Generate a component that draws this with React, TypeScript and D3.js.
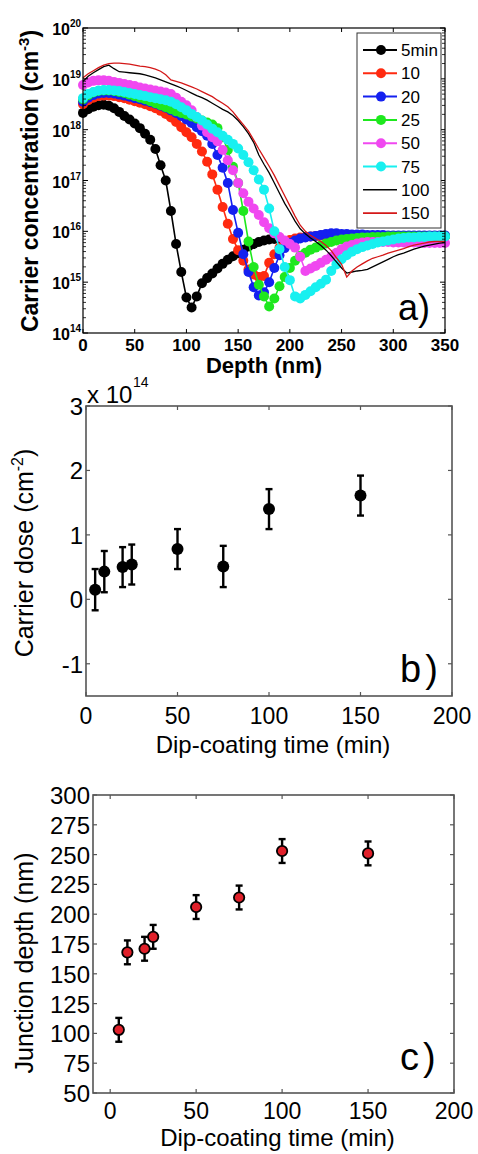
import React from "react";
import * as d3 from "d3";

// ---- panel a: carrier concentration profiles (log10 cm^-3), depth grid in nm ----
const depthNm = [
  0, 5, 10, 15, 20, 25, 30, 35, 40, 45, 50, 55, 60, 65, 70, 75, 80, 85, 90, 95,
  100, 105, 110, 115, 120, 125, 130, 135, 140, 145, 150, 155, 160, 165, 170, 175, 180, 185, 190, 195,
  200, 205, 210, 215, 220, 225, 230, 235, 240, 245, 250, 255, 260, 265, 270, 275, 280, 285, 290, 295,
  300, 305, 310, 315, 320, 325, 330, 335, 340, 345, 350,
];

const log5min = [
  18.33, 18.4, 18.45, 18.48, 18.49, 18.47, 18.42, 18.35, 18.27, 18.2, 18.12, 18.03, 17.92, 17.8, 17.62, 17.3, 17.0, 16.4, 15.75, 15.2,
  14.7, 14.5, 14.72, 14.98, 15.08, 15.17, 15.27, 15.36, 15.44, 15.51, 15.57, 15.64, 15.7, 15.75, 15.79, 15.82, 15.84, 15.85, 15.86,
];

const log10min = [
  18.5, 18.58, 18.63, 18.66, 18.67, 18.67, 18.66, 18.64, 18.62, 18.59, 18.56, 18.53, 18.5, 18.46, 18.42, 18.37, 18.31, 18.24, 18.15, 18.05,
  17.95, 17.85, 17.72, 17.57, 17.37, 17.12, 16.82, 16.48, 16.15, 15.85, 15.63, 15.42, 15.25, 15.15, 15.1, 15.12, 15.38, 15.55, 15.68, 15.77,
  15.83, 15.86, 15.88, 15.89, 15.9, 15.91, 15.92, 15.92, 15.93, 15.93, 15.93, 15.92, 15.92, 15.92, 15.91, 15.91, 15.91, 15.9, 15.9, 15.9,
  15.9, 15.9, 15.9, 15.9, 15.9, 15.9, 15.9, 15.9, 15.9, 15.9, 15.9,
];

const log20min = [
  18.55, 18.63, 18.68, 18.71, 18.72, 18.72, 18.71, 18.69, 18.67, 18.65, 18.62, 18.6, 18.57, 18.54, 18.51, 18.47, 18.43, 18.38, 18.33, 18.27,
  18.2, 18.13, 18.05, 17.97, 17.88, 17.72, 17.5, 17.25, 16.95, 16.42, 15.97, 15.55, 15.2, 14.9, 14.74, 14.8, 15.0, 15.28, 15.53, 15.67,
  15.77, 15.82, 15.86, 15.88, 15.9, 15.91, 15.93, 15.95, 15.96, 15.96, 15.95, 15.95, 15.94, 15.94, 15.94, 15.93, 15.93, 15.93, 15.93, 15.92,
  15.92, 15.92, 15.92, 15.92, 15.92, 15.92, 15.92, 15.92, 15.92, 15.92, 15.92,
];

const log25min = [
  18.6, 18.68, 18.73, 18.76, 18.77, 18.77, 18.76, 18.74, 18.72, 18.69, 18.66, 18.63, 18.6, 18.56, 18.52, 18.48, 18.44, 18.4, 18.36, 18.33,
  18.3, 18.26, 18.22, 18.18, 18.14, 18.1, 18.03, 17.85, 17.6, 17.27, 16.95, 16.4, 15.8, 15.3, 14.95, 14.72, 14.52, 14.68, 14.92, 15.1,
  15.28, 15.42, 15.52, 15.58, 15.64, 15.68, 15.72, 15.76, 15.79, 15.82, 15.84, 15.85, 15.86, 15.87, 15.88, 15.88, 15.89, 15.89, 15.89, 15.9,
  15.9, 15.9, 15.9, 15.9, 15.9, 15.9, 15.9, 15.9, 15.9, 15.9, 15.9,
];

const log50min = [
  18.88, 18.93, 18.96, 18.97, 18.97, 18.96, 18.94, 18.92, 18.9, 18.88, 18.86, 18.83, 18.81, 18.79, 18.77, 18.75, 18.73, 18.7, 18.63, 18.55,
  18.48, 18.38, 18.25, 18.08, 17.95, 17.85, 17.77, 17.6, 17.4, 17.2, 16.95, 16.75, 16.58, 16.45, 16.32, 16.18, 16.06, 15.96, 15.89, 15.82,
  15.75, 15.68, 15.5, 15.22, 15.27, 15.32, 15.38, 15.44, 15.5, 15.58, 15.65, 15.7, 15.73, 15.76, 15.78, 15.79, 15.79, 15.79, 15.79, 15.79,
  15.78, 15.78, 15.78, 15.78, 15.78, 15.78, 15.77, 15.77, 15.77, 15.77, 15.77,
];

const log75min = [
  18.62, 18.7, 18.74, 18.77, 18.78, 18.78, 18.77, 18.76, 18.74, 18.72, 18.7, 18.68, 18.66, 18.64, 18.62, 18.6, 18.58, 18.55, 18.5, 18.44,
  18.38, 18.31, 18.25, 18.18, 18.1, 18.02, 17.95, 17.88, 17.8, 17.72, 17.63, 17.5, 17.36, 17.2, 17.02, 16.82, 16.45, 16.0, 15.65, 15.3,
  15.04, 14.72, 14.68, 14.75, 14.82, 14.9, 14.97, 15.05, 15.22, 15.35, 15.45, 15.53, 15.6, 15.65, 15.69, 15.72, 15.75, 15.78, 15.8, 15.82,
  15.84, 15.86, 15.87, 15.88, 15.88, 15.89, 15.89, 15.9, 15.9, 15.9, 15.9,
];

const log100min = [
  18.95, 19.05, 19.12, 19.18, 19.24, 19.27, 19.2, 19.14, 19.13, 19.12, 19.11, 19.1, 19.08, 19.05, 19.02, 18.98, 18.94, 18.9, 18.86, 18.82,
  18.77, 18.72, 18.67, 18.63, 18.58, 18.52, 18.46, 18.4, 18.35, 18.28, 18.18, 18.06, 17.92, 17.75, 17.5, 17.32, 17.15, 16.95, 16.75, 16.55,
  16.38, 16.2, 16.05, 15.95, 15.87, 15.8, 15.72, 15.63, 15.52, 15.4, 15.28, 15.18, 15.2, 15.22, 15.23, 15.25, 15.3, 15.35, 15.4, 15.45,
  15.5, 15.54, 15.57, 15.61, 15.65, 15.68, 15.71, 15.73, 15.75, 15.77, 15.78,
];

const log150min = [
  19.02, 19.1, 19.16, 19.22, 19.27, 19.3, 19.31, 19.31, 19.3, 19.29, 19.27, 19.25, 19.24, 19.22, 19.19, 19.15, 19.08, 18.98, 18.95, 18.92,
  18.88, 18.84, 18.8, 18.75, 18.7, 18.65, 18.58, 18.52, 18.45, 18.35, 18.22, 18.1, 17.97, 17.8, 17.62, 17.45, 17.28, 17.1, 16.9, 16.7,
  16.5, 16.3, 16.12, 16.0, 15.92, 15.86, 15.8, 15.72, 15.62, 15.48, 15.35, 15.1, 15.22, 15.3, 15.36, 15.42, 15.47, 15.5, 15.53, 15.57,
  15.6, 15.63, 15.66, 15.7, 15.73, 15.75, 15.77, 15.79, 15.8, 15.8, 15.8,
];

const seriesNames = ["5min", "10", "20", "25", "50", "75", "100", "150"];
const seriesColors = ["#000000", "#ff2a10", "#1420f0", "#1ee81e", "#f048f0", "#18f0f0", "#000000", "#d41818"];
const seriesValues = [log5min, log10min, log20min, log25min, log50min, log75min, log100min, log150min];
const seriesMarkers = [true, true, true, true, true, true, false, false];

// ---- panels b and c ----
const dipTime = [5, 10, 20, 25, 50, 75, 100, 150];
const carrierDose = [0.15, 0.43, 0.5, 0.54, 0.78, 0.51, 1.4, 1.61]; // x 1e14 cm^-2
const carrierDoseErr = [0.32, 0.32, 0.31, 0.31, 0.31, 0.32, 0.31, 0.31];
const junctionDepth = [103, 168, 171, 181, 206, 214, 253, 251];
const junctionDepthErr = [10, 10, 10, 10, 10, 10, 10, 10];

const doseTicks = [-1, 0, 1, 2, 3];
const junctionTicks = [50, 75, 100, 125, 150, 175, 200, 225, 250, 275, 300];
const timeTicks = [0, 50, 100, 150, 200];
const depthTicks = [0, 50, 100, 150, 200, 250, 300, 350];
const decades = [14, 15, 16, 17, 18, 19, 20];

const FONT = "'Liberation Sans', Arial, Helvetica, sans-serif";

function PanelA() {
  const x = d3.scaleLinear().domain([0, 350]).range([83, 445]);
  const y = d3.scaleLog().domain([1e14, 1e20]).range([333, 28]);
  const line = d3
    .line<[number, number]>()
    .x((d) => x(d[0]))
    .y((d) => y(Math.pow(10, d[1])));

  const minor: number[] = [];
  decades.slice(0, -1).forEach((k) => {
    for (let m = 2; m <= 9; m++) minor.push(m * Math.pow(10, k));
  });

  const [x0, x1] = x.range();
  const [y1, y0] = y.range();

  return (
    <g fontFamily={FONT}>
      {/* curves */}
      {seriesValues.map((vals, i) => {
        const pts: [number, number][] = vals.map((v, j) => [depthNm[j], v]);
        return (
          <g key={seriesNames[i]}>
            <path
              d={line(pts) || ""}
              fill="none"
              stroke={seriesColors[i]}
              strokeWidth={seriesMarkers[i] ? 1.6 : 1.3}
            />
            {seriesMarkers[i] &&
              pts.map((p, j) => (
                <circle key={j} cx={x(p[0])} cy={y(Math.pow(10, p[1]))} r={5} fill={seriesColors[i]} />
              ))}
          </g>
        );
      })}

      {/* frame */}
      <rect x={x0} y={y0} width={x1 - x0} height={y1 - y0} fill="none" stroke="#000" strokeWidth={1.2} />

      {/* x ticks */}
      {depthTicks.map((t) => (
        <g key={t}>
          <line x1={x(t)} x2={x(t)} y1={y1} y2={y1 - 4} stroke="#000" />
          <line x1={x(t)} x2={x(t)} y1={y0} y2={y0 + 4} stroke="#000" />
          <text x={x(t)} y={351} textAnchor="middle" fontSize={17} fontWeight="bold">
            {t}
          </text>
        </g>
      ))}

      {/* y ticks */}
      {decades.map((k) => {
        const yy = y(Math.pow(10, k));
        return (
          <g key={k}>
            <line x1={x0} x2={x0 + 5} y1={yy} y2={yy} stroke="#000" />
            <line x1={x1} x2={x1 - 5} y1={yy} y2={yy} stroke="#000" />
            <text x={70} y={yy + 7} textAnchor="end" fontSize={16} fontWeight="bold">
              10
            </text>
            <text x={70} y={yy - 1} fontSize={10} fontWeight="bold">
              {k}
            </text>
          </g>
        );
      })}
      {minor.map((v) => (
        <g key={v}>
          <line x1={x0} x2={x0 + 3} y1={y(v)} y2={y(v)} stroke="#000" strokeWidth={0.8} />
          <line x1={x1} x2={x1 - 3} y1={y(v)} y2={y(v)} stroke="#000" strokeWidth={0.8} />
        </g>
      ))}

      {/* axis titles */}
      <text x={264} y={373} textAnchor="middle" fontSize={22} fontWeight="bold">
        Depth (nm)
      </text>
      <text transform="translate(38,181) rotate(-90)" textAnchor="middle" fontSize={23} fontWeight="bold">
        Carrier concentration (cm
        <tspan fontSize={15} dy={-9}>
          -3
        </tspan>
        <tspan dy={9}>)</tspan>
      </text>
      <text x={398} y={320} fontSize={36}>
        a)
      </text>

      {/* legend */}
      <rect x={357} y={33} width={84} height={195} fill="#fff" stroke="#333" strokeWidth={1} />
      {seriesNames.map((name, i) => {
        const ly = 50 + i * 23.3;
        return (
          <g key={name}>
            <line x1={363} x2={397} y1={ly} y2={ly} stroke={seriesColors[i]} strokeWidth={seriesMarkers[i] ? 2 : 1.6} />
            {seriesMarkers[i] && <circle cx={381} cy={ly} r={5} fill={seriesColors[i]} />}
            <text x={401} y={ly + 6} fontSize={17}>
              {name}
            </text>
          </g>
        );
      })}
    </g>
  );
}

function ErrorPanel({
  values,
  errors,
  yDomain,
  yRange,
  xDomain,
  xRange,
  yTicks,
  markerFill,
  yTitle,
  extra,
  label,
  labelY,
  xTickY,
  xTitleY,
  yTickX,
}: any) {
  const x = d3.scaleLinear().domain(xDomain).range(xRange);
  const y = d3.scaleLinear().domain(yDomain).range(yRange);
  const [x0, x1] = xRange;
  const [y1, y0] = yRange;
  const axis = "#555";
  return (
    <g fontFamily={FONT}>
      <rect x={x0} y={y0} width={x1 - x0} height={y1 - y0} fill="none" stroke={axis} strokeWidth={1.6} />
      {timeTicks.map((t) => (
        <g key={t}>
          <line x1={x(t)} x2={x(t)} y1={y1} y2={y1 - 4} stroke={axis} strokeWidth={1.2} />
          <line x1={x(t)} x2={x(t)} y1={y0} y2={y0 + 4} stroke={axis} strokeWidth={1.2} />
          <text x={x(t)} y={xTickY} textAnchor="middle" fontSize={23}>
            {t}
          </text>
        </g>
      ))}
      {yTicks.map((t: number) => (
        <g key={t}>
          <line x1={x0} x2={x0 + 4} y1={y(t)} y2={y(t)} stroke={axis} strokeWidth={1.2} />
          <line x1={x1} x2={x1 - 4} y1={y(t)} y2={y(t)} stroke={axis} strokeWidth={1.2} />
          <text x={yTickX} y={y(t) + 9} textAnchor="end" fontSize={24}>
            {t}
          </text>
        </g>
      ))}
      {values.map((v: number, i: number) => {
        const cx = x(dipTime[i]);
        const top = y(v + errors[i]);
        const bot = y(v - errors[i]);
        return (
          <g key={i}>
            <line x1={cx} x2={cx} y1={top} y2={bot} stroke="#000" strokeWidth={2.4} />
            <line x1={cx - 3.5} x2={cx + 3.5} y1={top} y2={top} stroke="#000" strokeWidth={2.4} />
            <line x1={cx - 3.5} x2={cx + 3.5} y1={bot} y2={bot} stroke="#000" strokeWidth={2.4} />
            <circle
              cx={cx}
              cy={y(v)}
              r={markerFill === "#000" ? 6 : 5.2}
              fill={markerFill}
              stroke="#000"
              strokeWidth={markerFill === "#000" ? 0 : 1.8}
            />
          </g>
        );
      })}
      <text x={(x0 + x1) / 2 + 4} y={xTitleY} textAnchor="middle" fontSize={24}>
        Dip-coating time (min)
      </text>
      {yTitle}
      <text x={400} y={labelY} fontSize={38} letterSpacing={4}>
        {label}
      </text>
      {extra}
    </g>
  );
}

export default function App() {
  return (
    <svg
      width={478}
      height={1154}
      style={{ position: "absolute", left: 0, top: 0, background: "#fff" }}
    >
      <rect width={478} height={1154} fill="#fff" />
      <PanelA />
      <ErrorPanel
        values={carrierDose}
        errors={carrierDoseErr}
        xDomain={[0, 200]}
        xRange={[86, 452]}
        yDomain={[-1.5, 3]}
        yRange={[696, 406]}
        yTicks={doseTicks}
        markerFill="#000"
        label="b)"
        labelY={682}
        xTickY={724}
        xTitleY={753}
        yTickX={83}
        yTitle={
          <text transform="translate(33,553) rotate(-90)" textAnchor="middle" fontSize={25}>
            Carrier dose (cm
            <tspan fontSize={16} dy={-10}>
              -2
            </tspan>
            <tspan dy={10}>)</tspan>
          </text>
        }
        extra={
          <g>
            <text x={87} y={403} fontSize={24}>
              x 10
            </text>
            <text x={133} y={387} fontSize={14}>
              14
            </text>
          </g>
        }
      />
      <ErrorPanel
        values={junctionDepth}
        errors={junctionDepthErr}
        xDomain={[-10, 200]}
        xRange={[93, 454]}
        yDomain={[50, 300]}
        yRange={[1093, 795]}
        yTicks={junctionTicks}
        markerFill="#e0202a"
        label="c)"
        labelY={1070}
        xTickY={1119}
        xTitleY={1146}
        yTickX={90}
        yTitle={
          <text transform="translate(33,963) rotate(-90)" textAnchor="middle" fontSize={25}>
            Junction depth (nm)
          </text>
        }
        extra={null}
      />
    </svg>
  );
}
